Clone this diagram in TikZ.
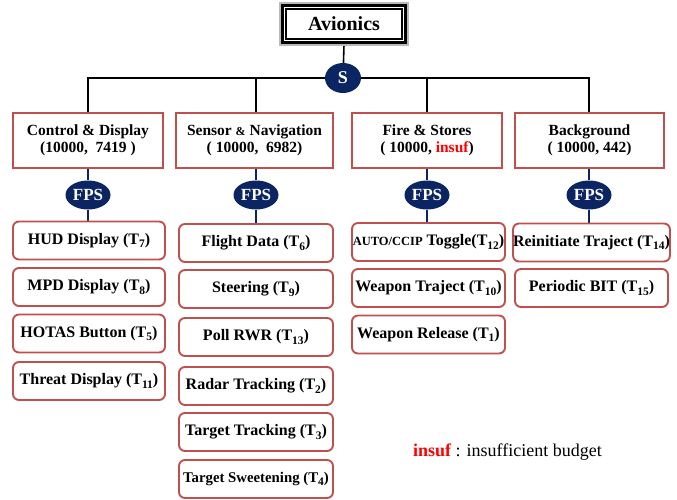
\documentclass[tikz,border=0pt]{standalone}
\usepackage{fontspec}
\setmainfont{Liberation Serif}
\usetikzlibrary{shapes.geometric,backgrounds}
\definecolor{bred}{HTML}{C0504D}
\definecolor{navy}{HTML}{0B2462}
\definecolor{insred}{HTML}{FF0000}
\newcommand\tsub[1]{\raisebox{-0.45ex}{\fontsize{11.5}{11.5}\selectfont #1}}
\newcommand\fsz[1]{\fontsize{#1}{#1}\selectfont}
\begin{document}
\begin{tikzpicture}[x=1pt,y=-1pt,
  grp/.style={draw=bred,line width=1.9pt,fill=white,rectangle,align=center,inner sep=0pt,
    font=\bfseries\fsz{15.5},minimum height=55pt},
  task/.style={draw=bred,line width=1.9pt,fill=white,rounded corners=6pt,inner sep=0pt,
    font=\bfseries\fsz{16},minimum height=38pt},
  oval/.style={ellipse,fill=navy,text=white,inner sep=0pt,font=\bfseries},
  blk/.style={line width=1.6pt,black},
  blu/.style={line width=2.2pt,navy}]
\useasboundingbox (0,0) rectangle (677,499);
% Avionics double frame
\node[draw=black,line width=3.6pt,minimum width=124pt,minimum height=38pt,inner sep=0pt] (av) at (344,24) {};
\draw[gray!55,line width=1.6pt] (av.south west) rectangle (av.north east);
\node[draw=black,line width=1.1pt,minimum width=116pt,minimum height=30pt,inner sep=0pt,font=\bfseries\fsz{20}] (avi) at (344,24) {Avionics};
\node[oval,minimum width=36pt,minimum height=30pt,font=\bfseries\fsz{18}] (s) at (343,78) {S};
% groups
\node[grp,minimum width=150pt] (cd) at (88,140.5) {Control \& Display\\[1.5pt](10000,~ 7419 )};
\node[grp,minimum width=157pt] (sn) at (254.5,140.5) {Sensor {\fsz{12}\&} Navigation\\[1.5pt]( 10000,~ 6982)};
\node[grp,minimum width=150pt] (fs) at (427,140.5) {Fire \& Stores\\[1.5pt]( 10000, \textcolor{insred}{insuf})};
\node[grp,minimum width=149pt] (bg) at (589.5,140.5) {Background\\[1.5pt]( 10000, 442)};
% FPS
\node[oval,minimum width=45pt,minimum height=29pt,font=\bfseries\fsz{17}] (f1) at (88,195) {FPS};
\node[oval,minimum width=45pt,minimum height=29pt,font=\bfseries\fsz{17}] (f2) at (256,195) {FPS};
\node[oval,minimum width=45pt,minimum height=29pt,font=\bfseries\fsz{17}] (f3) at (427,195) {FPS};
\node[oval,minimum width=45pt,minimum height=29pt,font=\bfseries\fsz{17}] (f4) at (589,195) {FPS};
% Control column
\node[task,minimum width=152pt] (t7) at (89,240.5) {HUD Display (T\tsub{7})};
\node[task,minimum width=152pt] (t8) at (89,287) {MPD Display (T\tsub{8})};
\node[task,minimum width=152pt] (t5) at (89,333.5) {HOTAS Button (T\tsub{5})};
\node[task,minimum width=152pt] (t11) at (89,381) {Threat Display (T\tsub{11})};
% Sensor column
\node[task,minimum width=154pt] (t6) at (256,243) {Flight Data (T\tsub{6})};
\node[task,minimum width=154pt] (t9) at (256,289) {Steering (T\tsub{9})};
\node[task,minimum width=154pt] (t13) at (256,337) {Poll RWR (T\tsub{13})};
\node[task,minimum width=154pt] (t2) at (256,386) {Radar Tracking (T\tsub{2})};
\node[task,minimum width=154pt] (t3) at (256,432) {Target Tracking (T\tsub{3})};
\node[task,minimum width=154pt,font=\bfseries\fsz{14.8}] (t4) at (256,479) {Target Sweetening (T\tsub{4})};
% Fire column
\node[task,minimum width=153pt] (t12) at (428.5,242) {{\fsz{12.5}AUTO/CCIP} Toggle(T\tsub{12})};
\node[task,minimum width=153pt] (t10) at (428.5,288) {Weapon Traject (T\tsub{10})};
\node[task,minimum width=153pt] (t1) at (428.5,334.5) {Weapon Release (T\tsub{1})};
% Background column
\node[task,minimum width=153pt] (t14) at (591.5,242.5) {Reinitiate Traject (T\tsub{14})};
\node[task,minimum width=153pt] (t15) at (591.5,288) {Periodic BIT (T\tsub{15})};
% legend
\node[anchor=west,inner sep=0pt,font=\fsz{18}] (leg) at (413,452) {\textbf{\textcolor{insred}{insuf}} : insufficient budget};
% connectors
\begin{scope}[on background layer]
\draw[blk] (av.south) -- (s);
\draw[blk] (s) -| (cd.north);
\draw[blk] (s) -| (sn.north -| f2);
\draw[blk] (s) -| (fs.north);
\draw[blk] (s) -| (bg.north -| f4);
\draw[blu] (cd.south -| f1) -- (f1) -- (t7.north -| f1);
\draw[blu] (sn.south -| f2) -- (f2) -- (t6.north -| f2);
\draw[blu] (fs.south -| f3) -- (f3) -- (t12.north -| f3);
\draw[blu] (bg.south -| f4) -- (f4) -- (t14.north -| f4);
\end{scope}
\end{tikzpicture}
\end{document}
